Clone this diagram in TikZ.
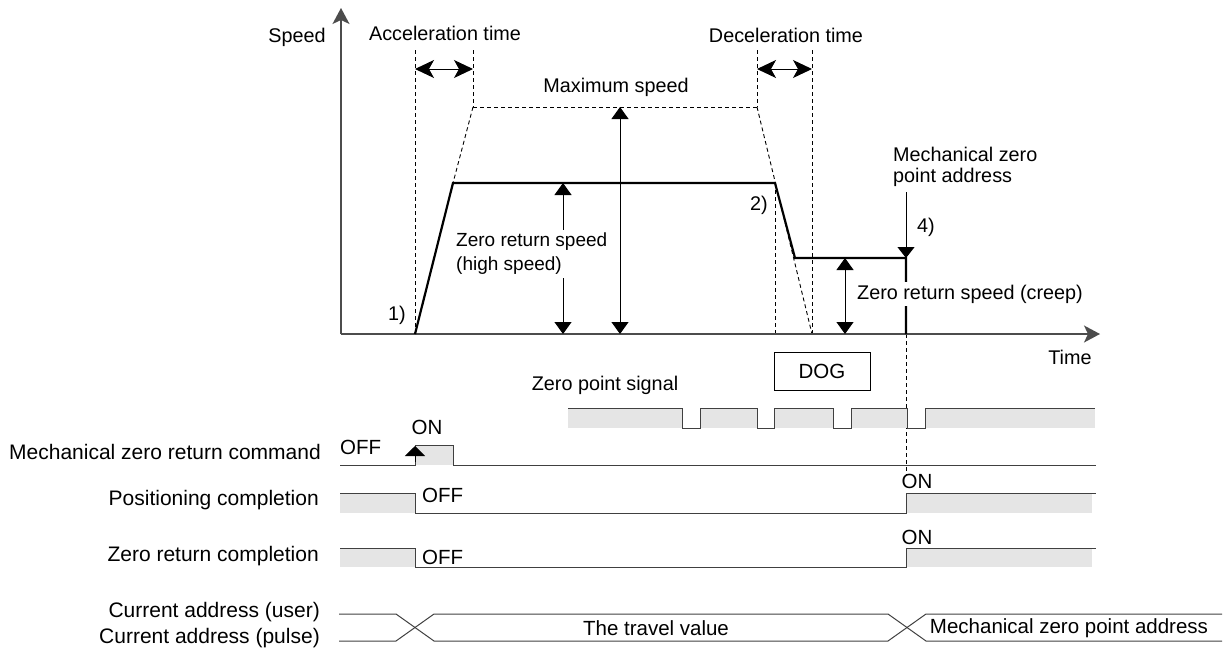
\documentclass[tikz,border=0pt]{standalone}
\usepackage{fontspec}
\setmainfont{Liberation Sans}
\usetikzlibrary{arrows.meta}
\tikzset{
  txt/.style={font=\fontsize{19.8}{20.5}\selectfont, inner sep=1pt, text=black},
  lowtxt/.style={font=\fontsize{20.5}{21}\selectfont, inner sep=1pt, text=black},
  lefttxt/.style={font=\fontsize{21}{22}\selectfont, inner sep=1pt, text=black, anchor=east},
  dsh/.style={draw=black, line width=0.9pt, dash pattern=on 4pt off 3pt},
  prof/.style={draw=black, line width=2.2pt, line join=miter},
  axisline/.style={line width=1.5pt, draw=black!70, -{Stealth[length=16pt,width=17pt,inset=4pt]}},
  vdim/.style={line width=1pt, {Triangle[length=12pt,width=17pt]}-{Triangle[length=12pt,width=17pt]}},
  vone/.style={line width=1pt, -{Triangle[length=11pt,width=17pt]}},
  hdim/.style={line width=1pt, {Stealth[length=19pt,width=18pt,inset=5pt]}-{Stealth[length=19pt,width=18pt,inset=5pt]}},
  sig/.style={line width=1pt, draw=black!75},
}
\begin{document}
\begin{tikzpicture}[x=1pt,y=-1pt]
\useasboundingbox (0,0) rectangle (1226,651);

% ---------- key coordinates ----------
\coordinate (O) at (341,334);
\coordinate (Ytop) at (341,8);
\coordinate (Xend) at (1100,334);
\coordinate (r0) at (415,334);
\coordinate (r1) at (453,183);
\coordinate (r2) at (775,183);
\coordinate (r3) at (795,258);
\coordinate (r4) at (906,258);
\coordinate (r5) at (906,334);
\coordinate (a1t) at (415,50);
\coordinate (a2t) at (473,50);
\coordinate (m1) at (473,107);
\coordinate (m2) at (757,107);
\coordinate (d1t) at (757,50);
\coordinate (d2t) at (812,50);
\coordinate (d2b) at (812,334);
\coordinate (r2b) at (775,334);
\coordinate (z0) at (906,334);
\coordinate (z1) at (906,475);

% ---------- dashed guides ----------
\draw[dsh] (a1t) -- (r0);
\draw[dsh] (a2t) -- (m1);
\draw[dsh] (m1) -- (m2);
\draw[dsh] (m1) -- (r1);
\draw[dsh] (d1t) -- (m2);
\draw[dsh] (m2) -- (d2b);
\draw[dsh] (d2t) -- (d2b);
\draw[dsh] (r2) -- (r2b);
\draw[dsh] (z0) -- (z1);

% ---------- axes ----------
\draw[axisline] (O) -- (Ytop);
\draw[axisline] (O) -- (Xend);

% ---------- speed profile ----------
\draw[prof] (r0) -- (r1) -- (r2) -- (r3) -- (r4) -- (r5);

% ---------- time arrows ----------
\coordinate (ah1) at (415,69); \coordinate (ah2) at (473,69);
\coordinate (dh1) at (757,69); \coordinate (dh2) at (812,69);
\draw[hdim] (ah1) -- (ah2);
\draw[hdim] (dh1) -- (dh2);

% ---------- speed arrows ----------
\coordinate (hs1) at (563,183); \coordinate (hs2) at (563,334);
\draw[vdim] (hs1) -- (hs2);
\node[txt, font=\fontsize{19}{24}\selectfont, fill=white, inner sep=3pt, anchor=west, align=left] (hslabel) at (453,254) {Zero return speed\\(high speed)};
\coordinate (ms1) at (620,107); \coordinate (ms2) at (620,334);
\draw[vdim] (ms1) -- (ms2);
\coordinate (cs1) at (845,258); \coordinate (cs2) at (845,334);
\draw[vdim] (cs1) -- (cs2);
\node[txt, fill=white, inner sep=3pt, anchor=west] (cslabel) at (854,294) {Zero return speed (creep)};
\coordinate (f1) at (906,192);
\draw[vone] (f1) -- (r4);

% ---------- labels upper ----------
\node[txt] (speed) at (297,37) {Speed};
\node[txt] (acc) at (445,33) {Acceleration time};
\node[txt] (maxs) at (616,87) {Maximum speed};
\node[txt] (dec) at (786,35) {Deceleration time};
\node[txt, anchor=west, align=left] (mzpa) at (892,167) {Mechanical zero\\point address};
\node[txt] (n4) at (926,227) {4)};
\node[txt] (n1) at (397,315) {1)};
\node[txt] (n2) at (759,205) {2)};
\node[txt] (time) at (1070,357) {Time};

% ---------- DOG ----------
\node[lowtxt, draw, line width=1pt, minimum width=96pt, minimum height=38pt, inner sep=0pt] (dog) at (822,371) {DOG};

% ---------- zero point signal ----------
\node[txt] (zps) at (605,385) {Zero point signal};
\fill[black!10] (568,408) rectangle (682,428);
\fill[black!10] (700,408) rectangle (757,428);
\fill[black!10] (774,408) rectangle (833,428);
\fill[black!10] (851,408) rectangle (907,428);
\fill[black!10] (925,408) rectangle (1095,428);
\draw[sig] (568,408) -- (682,408) -- (682,428) -- (700,428) -- (700,408) -- (757,408)
  -- (757,428) -- (774,428) -- (774,408) -- (833,408) -- (833,428) -- (851,428)
  -- (851,408) -- (907,408) -- (907,428) -- (925,428) -- (925,408) -- (1095,408);

% ---------- mechanical zero return command ----------
\node[lefttxt] (mzrc) at (322,452) {Mechanical zero return command};
\node[lowtxt, anchor=west] (off1) at (339,447) {OFF};
\node[lowtxt] (on1) at (427,427) {ON};
\fill[black!10] (415,445) rectangle (453,465);
\draw[sig] (340,465) -- (415,465) -- (415,445) -- (453,445) -- (453,465) -- (1096,465);
\coordinate (mc0) at (415,462); \coordinate (mc1) at (415,446);
\draw[line width=1pt, -{Triangle[length=10pt,width=20pt]}] (mc0) -- (mc1);

% ---------- positioning completion ----------
\node[lefttxt] (pc) at (320,500) {Positioning completion};
\node[lowtxt, anchor=west] (off2) at (421,495) {OFF};
\node[lowtxt] (on2) at (917,481) {ON};
\fill[black!10] (340,493) rectangle (415,513);
\fill[black!10] (906,493) rectangle (1092,513);
\draw[sig] (340,493) -- (415,493) -- (415,513) -- (906,513) -- (906,493) -- (1096,493);

% ---------- zero return completion ----------
\node[lefttxt] (zrc) at (320,556) {Zero return completion};
\node[lowtxt, anchor=west] (off3) at (421,557) {OFF};
\node[lowtxt] (on3) at (917,537) {ON};
\fill[black!10] (340,548) rectangle (415,567);
\fill[black!10] (906,548) rectangle (1092,567);
\draw[sig] (340,548) -- (415,548) -- (415,567) -- (906,567) -- (906,548) -- (1096,548);

% ---------- current address ----------
\node[lefttxt] (cau) at (321,612) {Current address (user)};
\node[lefttxt] (cap) at (321,638) {Current address (pulse)};
\draw[sig] (339,614) -- (396,614) -- (434,641) -- (888,641) -- (926,614) -- (1222,614);
\draw[sig] (339,641) -- (396,641) -- (434,614) -- (888,614) -- (926,641) -- (1222,641);
\node[lowtxt] (tv) at (656,628) {The travel value};
\node[lowtxt] (mza) at (1069,628) {Mechanical zero point address};
\end{tikzpicture}
\end{document}
